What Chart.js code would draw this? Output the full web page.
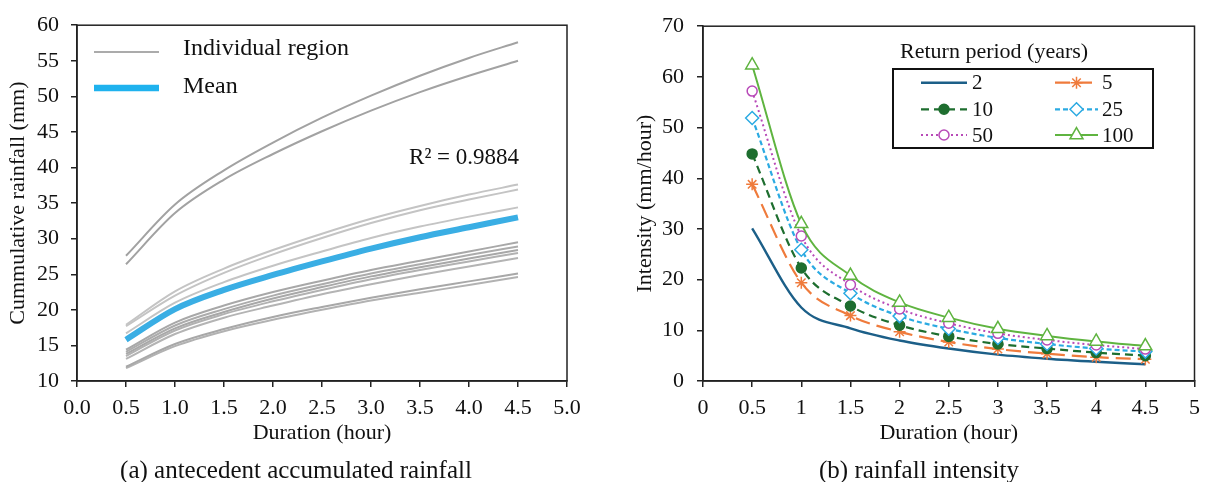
<!DOCTYPE html>
<html>
<head>
<meta charset="utf-8">
<script src="https://cdn.jsdelivr.net/npm/chart.js@4.4.1/dist/chart.umd.min.js"></script>
<style>
  html, body { margin: 0; padding: 0; background: #fff; }
  #wrap { position: relative; width: 1208px; height: 482px; overflow: hidden;
          font-family: 'Liberation Serif', 'Times New Roman', serif; color: #111; }
  #left { position: absolute; left: 0; top: 0; width: 600px; height: 482px; }
  #right { position: absolute; left: 600px; top: 0; width: 608px; height: 482px; }
  .caption { position: absolute; top: 456px; font-size: 25px; line-height: 28px;
             white-space: nowrap; transform: translateX(-50%); }
</style>
</head>
<body>
<div id="wrap">
  <canvas id="left" width="600" height="482"></canvas>
  <canvas id="right" width="608" height="482"></canvas>
  <div class="caption" style="left:296px">(a) antecedent accumulated rainfall</div>
  <div class="caption" style="left:919px">(b) rainfall intensity</div>
</div>
<script>
// duration (hour) shared by both panels
const durations = [0.5, 1.0, 1.5, 2.0, 2.5, 3.0, 3.5, 4.0, 4.5];

// (a) cumulative rainfall (mm) of each region
const regionHigh1 = [27.6, 34.8, 39.6, 43.5, 47.0, 50.1, 52.9, 55.4, 57.6];
const regionHigh2 = [26.4, 33.6, 38.3, 41.9, 45.1, 48.0, 50.6, 52.9, 55.0];
const regionUpper1 = [17.9, 22.6, 25.8, 28.4, 30.7, 32.8, 34.6, 36.2, 37.6];
const regionUpper2 = [17.7, 22.0, 25.2, 27.8, 30.1, 32.2, 34.0, 35.5, 36.9];
const regionUpper3 = [16.7, 21.0, 23.9, 26.2, 28.2, 30.1, 31.7, 33.1, 34.4];
const regionMid1 = [14.4, 18.2, 20.6, 22.5, 24.1, 25.6, 26.9, 28.2, 29.5];
const regionMid2 = [14.1, 17.8, 20.1, 22.0, 23.6, 25.1, 26.4, 27.7, 28.9];
const regionMid3 = [13.8, 17.4, 19.7, 21.6, 23.2, 24.7, 26.0, 27.2, 28.4];
const regionMid4 = [13.5, 17.1, 19.4, 21.2, 22.8, 24.3, 25.6, 26.8, 28.0];
const regionMid5 = [13.1, 16.6, 18.9, 20.6, 22.2, 23.6, 24.9, 26.1, 27.3];
const regionLow1 = [12.0, 15.2, 17.3, 19.0, 20.4, 21.7, 22.9, 24.0, 25.1];
const regionLow2 = [11.8, 14.9, 17.0, 18.6, 20.0, 21.3, 22.4, 23.5, 24.6];
const meanRainfall = [15.8, 20.1, 22.8, 24.9, 26.8, 28.6, 30.2, 31.6, 33.0];

// (b) rainfall intensity (mm/hour) by return period
const returnPeriods = ['2', '5', '10', '25', '50', '100'];
const intensity2 = [30.1, 14.5, 10.4, 8.0, 6.4, 5.2, 4.4, 3.8, 3.3];
const intensity5 = [38.8, 19.4, 12.9, 9.7, 7.7, 6.3, 5.4, 4.7, 4.3];
const intensity10 = [44.8, 22.3, 14.8, 11.0, 8.8, 7.3, 6.4, 5.6, 5.0];
const intensity25 = [51.9, 25.9, 17.3, 12.8, 10.3, 8.5, 7.3, 6.4, 5.8];
const intensity50 = [57.2, 28.6, 19.0, 14.2, 11.4, 9.4, 8.1, 7.1, 6.3];
const intensity100 = [62.3, 31.0, 20.8, 15.5, 12.5, 10.3, 8.9, 7.8, 6.9];

const toPoints = (ys) => ys.map((y, i) => ({x: durations[i], y: y}));

Chart.defaults.font.family = "'Liberation Serif', 'Times New Roman', serif";
Chart.defaults.color = '#111';

const axisLine = '#222';

const framePlugin = {
    id: 'frame',
    afterDatasetsDraw(chart) {
        const {ctx, chartArea: a} = chart;
        ctx.save();
        ctx.strokeStyle = axisLine;
        ctx.lineWidth = 1.5;
        ctx.strokeRect(a.left, a.top, a.right - a.left, a.bottom - a.top);
        ctx.restore();
    }
};

function makeScales(o) {
    return {
        x: {
            type: 'linear', min: 0, max: 5,
            afterFit: (s) => { s.height = 101; },
            grid: {drawOnChartArea: false, tickLength: 6, color: axisLine, lineWidth: 1.5},
            border: {color: axisLine, width: 1.5},
            ticks: {stepSize: 0.5, padding: 8, font: {size: 22}, color: '#111',
                    callback: o.xFormat},
            title: {display: true, text: 'Duration (hour)', font: {size: 22},
                    padding: {top: 0, bottom: 36}, color: '#111'}
        },
        y: {
            type: 'linear', min: o.yMin, max: o.yMax,
            afterFit: (s) => { s.width = o.yWidth; },
            grid: {drawOnChartArea: false, tickLength: 6, color: axisLine, lineWidth: 1.5},
            border: {color: axisLine, width: 1.5},
            ticks: {stepSize: o.yStep, padding: o.yPad, font: {size: 22}, color: '#111'},
            title: {display: true, text: o.yTitle, font: {size: 22},
                    padding: {top: o.yTitlePad, bottom: 0}, color: '#111'}
        }
    };
}

// ---------- (a) antecedent accumulated rainfall ----------
const regionCurves = [regionHigh1, regionHigh2, regionUpper1, regionUpper2, regionUpper3,
    regionMid1, regionMid2, regionMid3, regionMid4, regionMid5, regionLow1, regionLow2];
const regionShades = ['#a2a2a2', '#a2a2a2', '#c4c4c4', '#c4c4c4', '#c4c4c4',
    '#a8a8a8', '#acacac', '#a8a8a8', '#b2b2b2', '#b4b4b4', '#a8a8a8', '#b2b2b2'];
const meanBlue = '#3aaee4';

const leftDatasets = [{
    label: 'Mean',
    data: toPoints(meanRainfall),
    borderColor: meanBlue,
    borderWidth: 6,
    pointRadius: 0,
    cubicInterpolationMode: 'monotone'
}];
regionCurves.forEach((curve, i) => {
    leftDatasets.push({
        label: 'Individual region',
        data: toPoints(curve),
        borderColor: regionShades[i],
        borderWidth: 2,
        pointRadius: 0,
        cubicInterpolationMode: 'monotone'
    });
});

const leftLegend = {
    id: 'leftLegend',
    afterDraw(chart) {
        const ctx = chart.ctx;
        ctx.save();
        ctx.lineCap = 'butt';
        ctx.strokeStyle = '#ababab';
        ctx.lineWidth = 2;
        ctx.beginPath(); ctx.moveTo(94, 52); ctx.lineTo(159, 52); ctx.stroke();
        ctx.strokeStyle = '#1fb2ee';
        ctx.lineWidth = 6.5;
        ctx.beginPath(); ctx.moveTo(94, 88); ctx.lineTo(159, 88); ctx.stroke();
        ctx.fillStyle = '#111';
        ctx.font = "24px 'Liberation Serif', serif";
        ctx.textBaseline = 'middle';
        ctx.textAlign = 'left';
        ctx.fillText('Individual region', 183, 49);
        ctx.fillText('Mean', 183, 87);
        ctx.textAlign = 'right';
        ctx.font = "23px 'Liberation Serif', serif";
        ctx.fillText('R\u00B2 = 0.9884', 519, 158);
        ctx.restore();
    }
};

new Chart(document.getElementById('left'), {
    type: 'line',
    data: {datasets: leftDatasets},
    options: {
        responsive: false,
        animation: false,
        layout: {padding: {left: 0, right: 33, top: 17, bottom: 0}},
        plugins: {legend: {display: false}, tooltip: {enabled: false}},
        scales: makeScales({
            xFormat: (v) => Number(v).toFixed(1),
            yMin: 10, yMax: 60, yStep: 5, yWidth: 77, yPad: 12,
            yTitle: 'Cummulative rainfall (mm)', yTitlePad: 5
        })
    },
    plugins: [framePlugin, leftLegend]
});

// ---------- (b) rainfall intensity ----------
const intensitySeries = [intensity2, intensity5, intensity10, intensity25, intensity50, intensity100];
const seriesStyles = [
    {color: '#1c5f88', dash: [], width: 2.4, pointStyle: false, bg: '#1c5f88', radius: 0},
    {color: '#ef7b3c', dash: [15, 7], width: 2.2, pointStyle: 'star', bg: '#ef7b3c', radius: 6},
    {color: '#1e6e2f', dash: [8, 5], width: 2.2, pointStyle: 'circle', bg: '#1e6e2f', radius: 5},
    {color: '#2baae2', dash: [5, 3], width: 2.2, pointStyle: 'rectRot', bg: '#ffffff', radius: 6.5},
    {color: '#b84ab8', dash: [2, 3], width: 2, pointStyle: 'circle', bg: '#ffffff', radius: 5},
    {color: '#5fb440', dash: [], width: 2, pointStyle: 'triangle', bg: '#ffffff', radius: 7.5}
];

const rightDatasets = intensitySeries.map((series, i) => {
    const st = seriesStyles[i];
    return {
        label: returnPeriods[i],
        data: toPoints(series),
        borderColor: st.color,
        borderDash: st.dash,
        borderWidth: st.width,
        pointStyle: st.pointStyle,
        pointRadius: st.radius,
        pointBorderColor: st.color,
        pointBackgroundColor: st.bg,
        pointBorderWidth: 1.5,
        cubicInterpolationMode: 'monotone'
    };
}).reverse();

const rightLegend = {
    id: 'rightLegend',
    afterDraw(chart) {
        const ctx = chart.ctx;
        ctx.save();
        ctx.fillStyle = '#111';
        ctx.font = "22px 'Liberation Serif', serif";
        ctx.textBaseline = 'middle';
        ctx.textAlign = 'left';
        ctx.fillText('Return period (years)', 300, 52);
        ctx.strokeStyle = '#111';
        ctx.lineWidth = 2;
        ctx.strokeRect(293, 69, 260, 79);
        const rowsY = [82.7, 109.3, 135];
        const cols = [{x1: 321, x2: 367, text: 372}, {x1: 455, x2: 498, text: 502}];
        ctx.font = "21px 'Liberation Serif', serif";
        returnPeriods.forEach((label, i) => {
            const st = seriesStyles[i];
            const col = cols[i % 2];
            const y = rowsY[Math.floor(i / 2)];
            ctx.strokeStyle = st.color;
            ctx.lineWidth = st.width;
            ctx.setLineDash(st.dash);
            ctx.beginPath(); ctx.moveTo(col.x1, y); ctx.lineTo(col.x2, y); ctx.stroke();
            ctx.setLineDash([]);
            if (st.pointStyle) {
                ctx.fillStyle = st.bg;
                ctx.lineWidth = 1.5;
                Chart.helpers.drawPoint(ctx, {pointStyle: st.pointStyle, radius: st.radius,
                    borderWidth: 1.5, rotation: 0}, (col.x1 + col.x2) / 2, y);
            }
            ctx.fillStyle = '#111';
            ctx.fillText(label, col.text, y + 1);
        });
        ctx.restore();
    }
};

new Chart(document.getElementById('right'), {
    type: 'line',
    data: {datasets: rightDatasets},
    options: {
        responsive: false,
        animation: false,
        layout: {padding: {left: 0, right: 9, top: 22, bottom: 0}},
        plugins: {legend: {display: false}, tooltip: {enabled: false}},
        scales: makeScales({
            xFormat: (v) => String(v),
            yMin: 0, yMax: 70, yStep: 10, yWidth: 103, yPad: 13,
            yTitle: 'Intensity (mm/hour)', yTitlePad: 32
        })
    },
    plugins: [framePlugin, rightLegend]
});
</script>
</body>
</html>
